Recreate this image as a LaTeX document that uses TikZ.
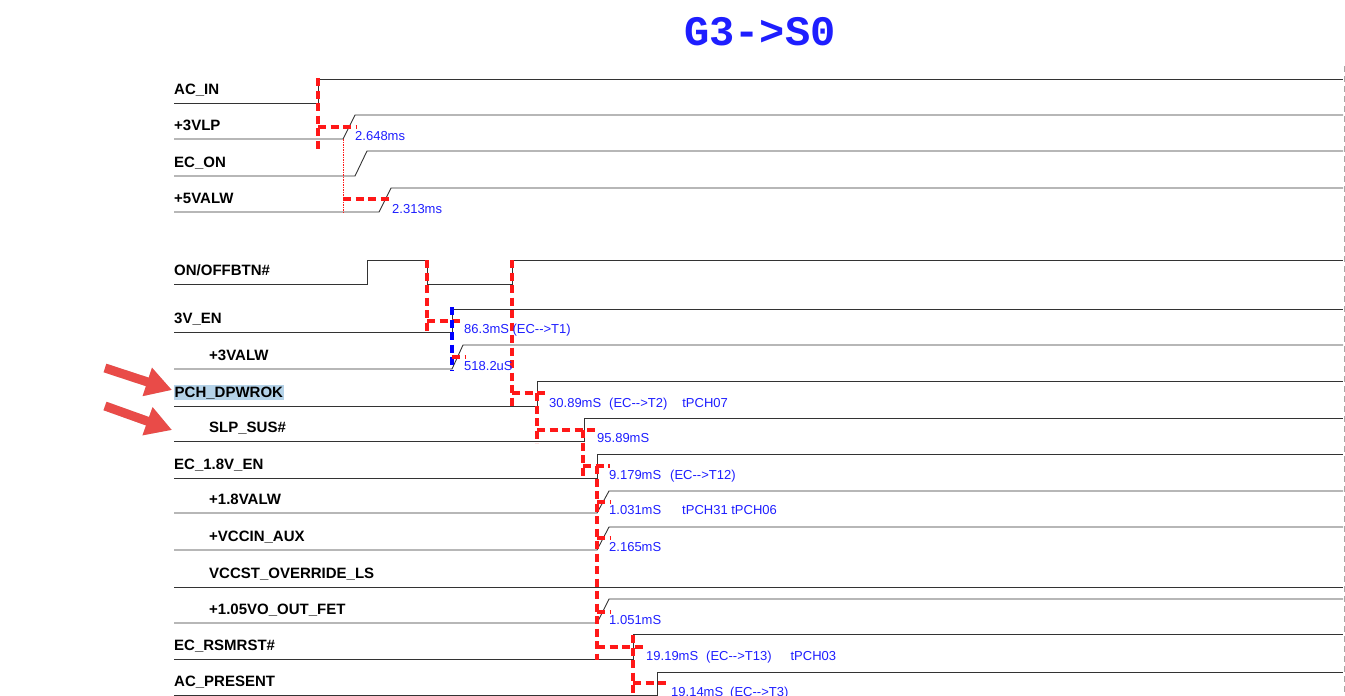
\documentclass[tikz,border=0pt]{standalone}
\usepackage{fontspec}
\setmainfont{Liberation Sans}
\newfontfamily\titulofont{Liberation Mono}
\usepackage{tikz}
\usetikzlibrary{arrows.meta}
\definecolor{rojo}{RGB}{255,24,24}
\definecolor{azul}{RGB}{30,30,255}
\definecolor{flecha}{RGB}{233,75,72}
\definecolor{resalte}{RGB}{180,210,232}

\begin{document}
\begin{tikzpicture}[x=1pt,y=-1pt,
    senal/.style={line width=0.9pt,black!80},
    retardo/.style={line width=3.5pt,rojo,dash pattern=on 8pt off 4.5pt},
    nombre/.style={anchor=base west,inner sep=0pt,font=\fontsize{15}{17}\selectfont\bfseries},
    tiempo/.style={anchor=base west,inner sep=0pt,text=azul,font=\fontsize{13}{15}\selectfont},
    callout/.style={line width=9pt,flecha,-{Triangle[length=26pt,width=28pt]}}]
    \useasboundingbox (0,0) rectangle (1345,696);

    % Titulo
    \node[font=\titulofont\bfseries\fontsize{42}{44}\selectfont,text=azul] (titulo) at (760,32) {G3->S0};

    % Senales con un solo flanco
    \foreach \etiqueta/\xn/\yb/\ya/\xa/\xb [count=\i] in {AC\_IN/174/103/79/318/318, +3VLP/174/139/115/343/355,
        EC\_ON/174/176/151/355/367, +5VALW/174/212/188/379/391, 3V\_EN/174/332/309/452/452,
        +3VALW/209/369/345/452/463, SLP\_SUS\#/209/441/418/584/584, EC\_1.8V\_EN/174/478/454/597/597,
        +1.8VALW/209/513/491/597/609, +VCCIN\_AUX/209/550/527/597/609, +1.05VO\_OUT\_FET/209/623/599/597/609,
        EC\_RSMRST\#/174/659/634/633/633, AC\_PRESENT/174/695/672/657/657} {
        \draw[senal] (174,\yb) -- (\xa,\yb) -- (\xb,\ya) -- (1343,\ya);
        \node[nombre] (s\i) at (\xn,\yb-9) {\etiqueta};
    }

    % Pulso del boton
    \draw[senal] (174,284) -- (367,284) -- (367,260) -- (427,260) -- (427,284) -- (512,284) -- (512,260) -- (1343,260);
    \node[nombre] (onoff) at (174,275) {ON/OFFBTN\#};

    % PCH_DPWROK (resaltada)
    \draw[senal] (174,406) -- (537,406) -- (537,381) -- (1343,381);
    \node[nombre,fill=resalte,inner xsep=0.5pt,inner ysep=1.5pt] (dpwrok) at (174,397) {PCH\_DPWROK};

    % Senal plana
    \draw[senal] (174,587) -- (1343,587);
    \node[nombre] (vccst) at (209,578) {VCCST\_OVERRIDE\_LS};

    % Borde derecho
    \draw[gray!70,line width=0.8pt,dash pattern=on 6pt off 4pt] (1344,66) -- (1344,696);

    % Retardos
    \draw[retardo] (318,78) -- (318,153);
    \draw[retardo] (318,127) -- (357,127);
    \draw[rojo,line width=0.9pt,dash pattern=on 1.5pt off 1pt] (343,139) -- (343,212);
    \draw[retardo] (343,199) -- (392,199);
    \draw[retardo] (427,260) -- (427,333);
    \draw[retardo] (427,321) -- (464,321);
    \draw[retardo,blue] (452,307) -- (452,370);
    \draw[retardo] (452,357) -- (465,357);
    \draw[retardo] (512,260) -- (512,406);
    \draw[retardo] (512,393) -- (548,393);
    \draw[retardo] (537,393) -- (537,443);
    \draw[retardo] (537,430) -- (598,430);
    \draw[retardo] (583,430) -- (583,478);
    \draw[retardo] (583,466) -- (610,466);
    \draw[retardo] (597,466) -- (597,660);
    \foreach \y in {502,538,612}
        \draw[retardo] (597,\y) -- (610,\y);
    \draw[retardo] (597,647) -- (645,647);
    \draw[retardo] (633,635) -- (633,696);
    \draw[retardo] (633,683) -- (670,683);

    % Tiempos medidos
    \node[tiempo] (t1) at (355,140) {2.648ms};
    \node[tiempo] (t2) at (392,213) {2.313ms};
    \node[tiempo] (t3) at (464,333) {86.3mS (EC-{}->T1)};
    \node[tiempo] (t4) at (464,370) {518.2uS};
    \node[tiempo] (t5) at (549,407) {30.89mS\hspace{8pt}(EC-{}->T2)\hspace{15pt}tPCH07};
    \node[tiempo] (t6) at (597,442) {95.89mS};
    \node[tiempo] (t7) at (609,479) {9.179mS\hspace{9pt}(EC-{}->T12)};
    \node[tiempo] (t8) at (609,514) {1.031mS\hspace{21pt}tPCH31 tPCH06};
    \node[tiempo] (t9) at (609,551) {2.165mS};
    \node[tiempo] (t10) at (609,624) {1.051mS};
    \node[tiempo] (t11) at (646,660) {19.19mS\hspace{8pt}(EC-{}->T13)\hspace{19pt}tPCH03};
    \node[tiempo] (t12) at (671,696.5) {19.14mS\hspace{7pt}(EC-{}->T3)};

    % Flechas
    \coordinate (cola1) at (105,368);
    \coordinate (punta1) at (172,390);
    \coordinate (cola2) at (105,406);
    \coordinate (punta2) at (172,430);
    \draw[callout,black!35,opacity=0.5,shift={(2,3)}] (cola1) -- (punta1);
    \draw[callout,black!35,opacity=0.5,shift={(2,3)}] (cola2) -- (punta2);
    \draw[callout] (cola1) -- (punta1);
    \draw[callout] (cola2) -- (punta2);
\end{tikzpicture}
\end{document}
